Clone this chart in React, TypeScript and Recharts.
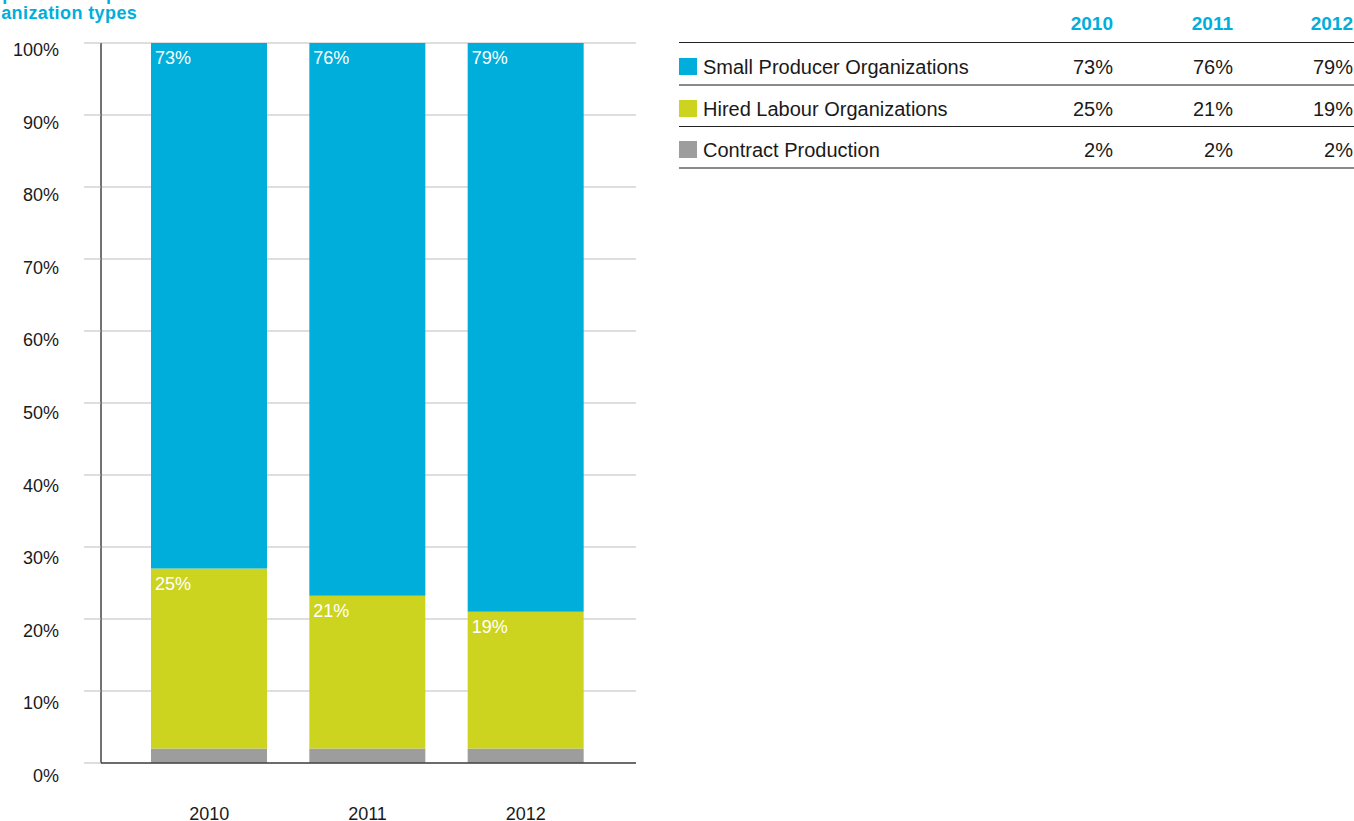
import React from "react";
import { BarChart, Bar, XAxis, YAxis, CartesianGrid, LabelList } from "recharts";

const years = ["2010", "2011", "2012"];
const smallProducer = [73, 76, 79];
const hiredLabour = [25, 21, 19];
const contractProduction = [2, 2, 2];
const yTicks = [0, 0.1, 0.2, 0.3, 0.4, 0.5, 0.6, 0.7, 0.8, 0.9, 1];

const seriesNames = ["Small Producer Organizations", "Hired Labour Organizations", "Contract Production"];
const seriesValues = [smallProducer, hiredLabour, contractProduction];
const seriesColors = ["#00AEDB", "#CDD420", "#9D9D9E"];

const CYAN = "#00AEDB";
const FONT = "'Liberation Sans', Arial, Helvetica, sans-serif";

const data = years.map((y, i) => ({
  year: y,
  small: smallProducer[i],
  hired: hiredLabour[i],
  contract: contractProduction[i],
}));

const YTick = (props: any) => {
  const { x, y, payload } = props;
  // labels sit a little below their gridline, more so toward the bottom
  const off = 7 + (6 * (y - 43)) / 720;
  return (
    <text x={x} y={y + off + 6} textAnchor="end" fontSize={18} fill="#1a1a1a" fontFamily={FONT}>
      {Math.round(payload.value * 100) + "%"}
    </text>
  );
};

const XTick = (props: any) => {
  const { x, y, payload } = props;
  return (
    <text x={x} y={y + 49} textAnchor="middle" fontSize={18} fill="#1a1a1a" fontFamily={FONT}>
      {payload.value}
    </text>
  );
};

const segLabel = (values: number[]) => (props: any) => {
  const { x, y, index } = props;
  return (
    <text x={x + 4} y={y + 21} fontSize={18} fill="#ffffff" fontFamily={FONT}>
      {values[index] + "%"}
    </text>
  );
};

export default function App() {
  return (
    <div
      style={{
        position: "absolute",
        left: 0,
        top: 0,
        width: 1354,
        height: 821,
        overflow: "hidden",
        background: "#fff",
        fontFamily: FONT,
      }}
    >
      <div
        style={{
          position: "absolute",
          left: -29,
          top: -15,
          color: CYAN,
          fontWeight: 700,
          fontSize: 18,
          lineHeight: "19px",
          letterSpacing: 0.4,
          whiteSpace: "nowrap",
        }}
      >
        Proportions of producer
        <br />
        organization types
      </div>

      <div style={{ position: "absolute", left: 0, top: 0 }}>
        <BarChart
          width={640}
          height={821}
          data={data}
          stackOffset="expand"
          margin={{ top: 43, right: 4, left: 0, bottom: 0 }}
          barSize={116}
        >
          <CartesianGrid horizontal vertical={false} stroke="#bdbdbd" strokeWidth={1} />
          <XAxis
            dataKey="year"
            height={58}
            padding={{ left: 29, right: 31 }}
            axisLine={{ stroke: "#444", strokeWidth: 1.5 }}
            tickLine={false}
            tick={<XTick />}
            interval={0}
          />
          <YAxis
            width={101}
            domain={[0, 1]}
            ticks={yTicks}
            tickSize={17}
            tickMargin={25}
            axisLine={{ stroke: "#444", strokeWidth: 1.5 }}
            tickLine={{ stroke: "#bdbdbd" }}
            tick={<YTick />}
            allowDataOverflow
          />
          <Bar dataKey="contract" stackId="a" fill={seriesColors[2]} isAnimationActive={false} />
          <Bar dataKey="hired" stackId="a" fill={seriesColors[1]} isAnimationActive={false}>
            <LabelList dataKey="hired" content={segLabel(hiredLabour)} />
          </Bar>
          <Bar dataKey="small" stackId="a" fill={seriesColors[0]} isAnimationActive={false}>
            <LabelList dataKey="small" content={segLabel(smallProducer)} />
          </Bar>
        </BarChart>
      </div>

      {/* data table on the right */}
      <div style={{ position: "absolute", left: 679, top: 0, width: 700, fontSize: 20, lineHeight: "22px", color: "#1a1a1a" }}>
        {years.map((y, i) => (
          <div
            key={y}
            style={{
              position: "absolute",
              left: 434 + i * 120 - 80,
              width: 80,
              top: 13,
              textAlign: "right",
              color: CYAN,
              fontWeight: 700,
              fontSize: 19,
            }}
          >
            {y}
          </div>
        ))}
        <div style={{ position: "absolute", left: 0, top: 42, width: 700, height: 0, borderTop: "1.5px solid #222" }} />
        {seriesNames.map((name, r) => (
          <div key={name}>
            <div
              style={{
                position: "absolute",
                left: 0,
                top: 58 + r * 41.5,
                width: 18,
                height: 17,
                background: seriesColors[r],
              }}
            />
            <div style={{ position: "absolute", left: 24, top: 56 + r * 41.5, whiteSpace: "nowrap" }}>{name}</div>
            {seriesValues[r].map((v, i) => (
              <div
                key={i}
                style={{
                  position: "absolute",
                  left: 434 + i * 120 - 80,
                  width: 80,
                  top: 56 + r * 41.5,
                  textAlign: "right",
                }}
              >
                {v + "%"}
              </div>
            ))}
            <div
              style={{
                position: "absolute",
                left: 0,
                top: 84 + r * 41.5,
                width: 700,
                height: 0,
                borderTop: r % 2 === 0 ? "2px solid #8a8a8a" : "1.5px solid #222",
              }}
            />
          </div>
        ))}
      </div>
    </div>
  );
}
